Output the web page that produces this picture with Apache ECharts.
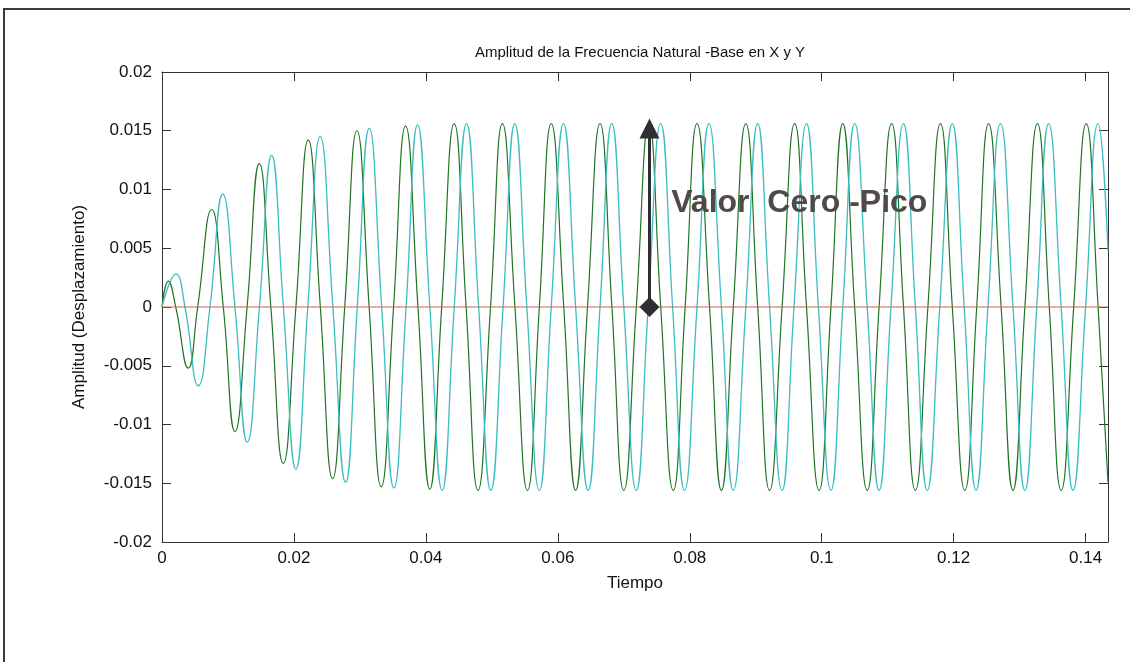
<!DOCTYPE html>
<html>
<head>
<meta charset="utf-8">
<script src="https://cdn.jsdelivr.net/npm/echarts@6/dist/echarts.min.js"></script>
<style>
  html, body { margin: 0; padding: 0; background: #ffffff; }
  #chart { width: 1130px; height: 662px; }
</style>
</head>
<body>
<div id="chart"></div>
<script>
// ---- data (extrema and zero crossings) ----
const chartTitle = 'Amplitud de la Frecuencia Natural -Base en X y Y';
const xName = 'Tiempo';
const yName = 'Amplitud (Desplazamiento)';
const xMin = 0, xMax = 0.1434, xStep = 0.02;
const yMin = -0.02, yMax = 0.02, yStep = 0.005;

const greenPoints = [
  [0,0],[0.00095,0.0022],[0.00208,0],[0.00398,-0.0052],[0.00541,0],[0.00753,0.0083],
  [0.00929,0],[0.01106,-0.0106],[0.0129,0],[0.01474,0.0122],[0.0165,0],[0.01838,-0.0133],
  [0.0203,0],[0.02217,0.0142],[0.0240,0],[0.02586,-0.0146],[0.0277,0],[0.02955,0.0150],
  [0.0314,0],[0.03323,-0.0153],[0.0351,0],[0.03692,0.0154],[0.0388,0],[0.0406,-0.0155],
  [0.0424,0],[0.04429,0.0156],[0.0461,0],[0.0479,-0.0156],[0.0498,0],[0.0516,0.0156],
  [0.0535,0],[0.0554,-0.0156],[0.0572,0],[0.0590,0.0156],[0.0609,0],[0.0627,-0.0156],
  [0.0645,0],[0.0664,0.0156],[0.0682,0],[0.0700,-0.0156],[0.0719,0],[0.0738,0.0156],
  [0.0756,0],[0.0775,-0.0156],[0.0793,0],[0.0811,0.0156],[0.0830,0],[0.0848,-0.0156],
  [0.0866,0],[0.0885,0.0156],[0.0903,0],[0.0921,-0.0156],[0.0940,0],[0.0959,0.0156],
  [0.0977,0],[0.0996,-0.0156],[0.1014,0],[0.1032,0.0156],[0.1050,0],[0.1069,-0.0156],
  [0.1087,0],[0.1106,0.0156],[0.1124,0],[0.1142,-0.0156],[0.1161,0],[0.1180,0.0156],
  [0.1198,0],[0.1217,-0.0156],[0.1235,0],[0.1253,0.0156],[0.1272,0],[0.1290,-0.0156],
  [0.1308,0],[0.1327,0.0156],[0.1345,0],[0.1363,-0.0156],[0.1382,0],[0.1401,0.0156],
  [0.1419,0],[0.1434,-0.0149]
];

const cyanPoints = [
  [0,0],[0.00212,0.0028],[0.00348,0],[0.0055,-0.0067],[0.00727,0],[0.0092,0.0096],
  [0.01106,0],[0.01292,-0.0115],[0.01477,0],[0.01662,0.0129],[0.0184,0],[0.0203,-0.0138],
  [0.0221,0],[0.02398,0.0145],[0.0259,0],[0.02783,-0.0149],[0.0296,0],[0.03141,0.0152],
  [0.0333,0],[0.03515,-0.0154],[0.0370,0],[0.03874,0.0155],[0.0406,0],[0.04247,-0.0156],
  [0.0443,0],[0.04617,0.0156],[0.0480,0],[0.04985,-0.0156],[0.0517,0],[0.05348,0.0156],
  [0.0553,0],[0.0572,-0.0156],[0.0590,0],[0.06086,0.0156],[0.0627,0],[0.0646,-0.0156],
  [0.0664,0],[0.06818,0.0156],[0.0700,0],[0.0719,-0.0156],[0.0737,0],[0.0756,0.0156],
  [0.0774,0],[0.0792,-0.0156],[0.0811,0],[0.0829,0.0156],[0.0848,0],[0.0866,-0.0156],
  [0.0885,0],[0.0903,0.0156],[0.0921,0],[0.0940,-0.0156],[0.0958,0],[0.0977,0.0156],
  [0.0995,0],[0.1014,-0.0156],[0.1032,0],[0.1050,0.0156],[0.1069,0],[0.1087,-0.0156],
  [0.1105,0],[0.1124,0.0156],[0.1142,0],[0.1160,-0.0156],[0.1179,0],[0.1198,0.0156],
  [0.1216,0],[0.1234,-0.0156],[0.1252,0],[0.1271,0.0156],[0.1290,0],[0.1308,-0.0156],
  [0.1326,0],[0.1344,0.0156],[0.1363,0],[0.1381,-0.0156],[0.1400,0],[0.1419,0.0156],
  [0.1434,0.0048]
];

const zeroLinePoints = [[0,0],[0.1434,0]];
const arrowTime = 0.0739;
const arrowStart = 0;
const arrowEnd = 0.0152;
const annotationText = 'Valor  Cero -Pico';
const annotationAt = [0.0772, 0.0088];

// ---- chart ----
const FONT = "'Liberation Sans', Arial, Helvetica, sans-serif";
const chart = echarts.init(document.getElementById('chart'), null, { renderer: 'canvas' });

function fmtX(v) {
  const k = v / xStep;
  if (Math.abs(k - Math.round(k)) > 1e-6) return '';
  return String(+v.toFixed(3));
}
function fmtY(v) { return String(+v.toFixed(4)); }

const axisLineStyle = { color: '#333333', width: 1 };

const option = {
  backgroundColor: '#ffffff',
  animation: false,
  title: {
    text: chartTitle,
    left: 635, top: 40, textAlign: 'center',
    textStyle: { fontFamily: FONT, fontSize: 15, fontWeight: 'normal', color: '#111111' }
  },
  graphic: [{
    type: 'rect', silent: true,
    shape: { x: 4, y: 9, width: 1200, height: 800 },
    style: { fill: 'none', stroke: '#3a3a3a', lineWidth: 2 }
  }],
  grid: { left: 162, right: 22, top: 72, bottom: 120, containLabel: false },
  xAxis: [{
    type: 'value', min: xMin, max: xMax, interval: xStep,
    name: xName, nameLocation: 'middle', nameGap: 33,
    nameTextStyle: { fontFamily: FONT, fontSize: 17, color: '#111111' },
    axisLine: { show: true, onZero: false, lineStyle: axisLineStyle },
    axisTick: { show: true, inside: true, length: 9, lineStyle: axisLineStyle },
    axisLabel: { show: true, margin: 8, formatter: fmtX, fontFamily: FONT, fontSize: 17, color: '#111111', showMaxLabel: false },
    splitLine: { show: false }
  }, {
    type: 'value', position: 'top', min: xMin, max: xMax, interval: xStep,
    axisLine: { show: true, onZero: false, lineStyle: axisLineStyle },
    axisTick: { show: true, inside: true, length: 9, lineStyle: axisLineStyle },
    axisLabel: { show: false },
    splitLine: { show: false }
  }],
  yAxis: [{
    type: 'value', min: yMin, max: yMax, interval: yStep,
    name: yName, nameLocation: 'middle', nameGap: 74, nameRotate: 90,
    nameTextStyle: { fontFamily: FONT, fontSize: 17, color: '#111111' },
    axisLine: { show: true, onZero: false, lineStyle: axisLineStyle },
    axisTick: { show: true, inside: true, length: 9, lineStyle: axisLineStyle },
    axisLabel: { show: true, margin: 10, formatter: fmtY, fontFamily: FONT, fontSize: 17, color: '#111111' },
    splitLine: { show: false }
  }, {
    type: 'value', position: 'right', min: yMin, max: yMax, interval: yStep,
    axisLine: { show: true, onZero: false, lineStyle: axisLineStyle },
    axisTick: { show: true, inside: true, length: 9, lineStyle: axisLineStyle },
    axisLabel: { show: false },
    splitLine: { show: false }
  }],
  series: [{
    name: 'X', type: 'line', data: greenPoints, smooth: 0.5,
    showSymbol: false, symbol: 'none', silent: true,
    lineStyle: { color: '#1f7322', width: 1.2 }
  }, {
    name: 'Y', type: 'line', data: cyanPoints, smooth: 0.5,
    showSymbol: false, symbol: 'none', silent: true,
    lineStyle: { color: '#3bbdc1', width: 1.3 }
  }, {
    name: 'Base', type: 'line', data: zeroLinePoints,
    showSymbol: false, symbol: 'none', silent: true,
    lineStyle: { color: '#d4604f', width: 1.2 },
    markLine: {
      silent: true, animation: false,
      symbol: ['diamond', 'triangle'], symbolSize: [20, 20],
      label: { show: false },
      lineStyle: { color: '#2e2e34', width: 3, type: 'solid' },
      emphasis: { disabled: true },
      data: [[{ coord: [arrowTime, arrowStart] }, { coord: [arrowTime, arrowEnd] }]]
    },
    markPoint: {
      silent: true, animation: false,
      symbol: 'circle', symbolSize: 0,
      itemStyle: { color: 'transparent' },
      label: {
        show: true, position: 'right', distance: 0,
        formatter: annotationText,
        fontFamily: FONT, fontSize: 32, fontWeight: 'bold', color: '#504949'
      },
      data: [{ coord: annotationAt }]
    }
  }]
};
chart.setOption(option);
</script>
</body>
</html>
